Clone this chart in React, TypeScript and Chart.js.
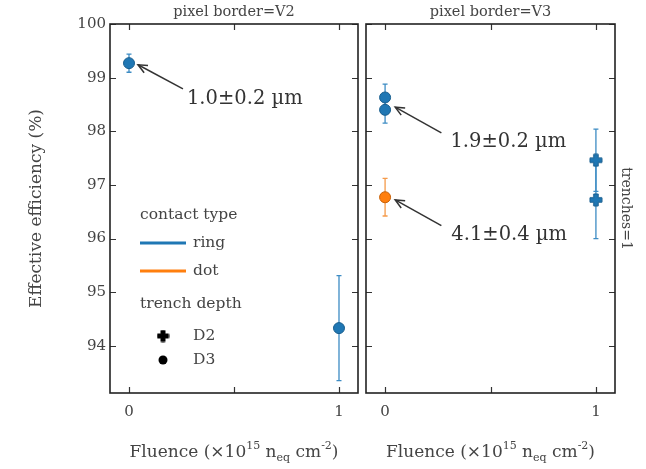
import React, { useEffect, useRef } from 'react';
import { Chart, registerables } from 'chart.js';
Chart.register(...registerables);

const FONT = "'DejaVu Serif', serif";
const BLUE = '#1f77b4';
const BLUE_EDGE = '#185e8e';
const ORANGE = '#ff7f0e';
const ORANGE_EDGE = '#c8620a';
const TEXT = '#444444';

// ---- data: pixel border = V2 (left panel) ----
const v2RingD3Fluence = [0, 1];
const v2RingD3Eff = [99.27, 94.33];
const v2RingD3Err = [0.17, 0.98];

// ---- data: pixel border = V3 (right panel) ----
const v3RingD3Fluence = [0, 0];
const v3RingD3Eff = [98.63, 98.4];
const v3RingD3Err = [0.25, 0.25];
const v3DotD3Fluence = [0];
const v3DotD3Eff = [96.77];
const v3DotD3Err = [0.35];
const v3RingD2Fluence = [1, 1];
const v3RingD2Eff = [97.46, 96.72];
const v3RingD2Err = [0.58, 0.72];

// ---- axes / labels ----
const xTicks = [0, 0.5, 1];
const xTickLabels = ['0', '', '1'];
const yTicks = [94, 95, 96, 97, 98, 99, 100];
const xRange = [-0.0905, 1.0905];
const yRange = [93.12, 100];
const panelTitles = ['pixel border=V2', 'pixel border=V3'];
const yTitle = 'Effective efficiency (%)';
const sideLabel = 'trenches=1';
const legendContactTitle = 'contact type';
const legendContact = ['ring', 'dot'];
const legendDepthTitle = 'trench depth';
const legendDepth = ['D2', 'D3'];

// annotations (data coordinates): text, arrow tip, arrow tail, text anchor
const v2NoteTexts = ['1.0±0.2 µm'];
const v2NoteTips = [[0.043, 99.24]];
const v2NoteTails = [[0.257, 98.79]];
const v2NoteAnchors = [[0.276, 98.6]];
const v3NoteTexts = ['1.9±0.2 µm', '4.1±0.4 µm'];
const v3NoteTips = [[0.048, 98.45], [0.048, 96.72]];
const v3NoteTails = [[0.267, 97.97], [0.267, 96.24]];
const v3NoteAnchors = [[0.31, 97.8], [0.314, 96.06]];

function makePlus(size: number, thick: number, fill: string, stroke: string) {
  const c = document.createElement('canvas');
  c.width = size + 2;
  c.height = size + 2;
  const g = c.getContext('2d')!;
  const o = 1, s = size, t = thick, a = (s - t) / 2;
  g.beginPath();
  g.moveTo(o + a, o);
  g.lineTo(o + a + t, o);
  g.lineTo(o + a + t, o + a);
  g.lineTo(o + s, o + a);
  g.lineTo(o + s, o + a + t);
  g.lineTo(o + a + t, o + a + t);
  g.lineTo(o + a + t, o + s);
  g.lineTo(o + a, o + s);
  g.lineTo(o + a, o + a + t);
  g.lineTo(o, o + a + t);
  g.lineTo(o, o + a);
  g.lineTo(o + a, o + a);
  g.closePath();
  g.fillStyle = fill;
  g.fill();
  g.strokeStyle = stroke;
  g.lineWidth = 1;
  g.stroke();
  return c;
}

function pts(xs: number[], ys: number[]) {
  return xs.map((x, i) => ({ x, y: ys[i] }));
}

function drawRich(ctx: CanvasRenderingContext2D, parts: [string, number, number][], cx: number, by: number) {
  let total = 0;
  parts.forEach(([t, size]) => {
    ctx.font = `${size}px ${FONT}`;
    total += ctx.measureText(t).width;
  });
  let x = cx - total / 2;
  ctx.textAlign = 'left';
  ctx.textBaseline = 'alphabetic';
  parts.forEach(([t, size, dy]) => {
    ctx.font = `${size}px ${FONT}`;
    ctx.fillText(t, x, by + dy);
    x += ctx.measureText(t).width;
  });
}

function drawArrow(ctx: CanvasRenderingContext2D, x1: number, y1: number, x2: number, y2: number) {
  ctx.save();
  ctx.strokeStyle = '#333';
  ctx.lineWidth = 1.5;
  ctx.beginPath();
  ctx.moveTo(x1, y1);
  ctx.lineTo(x2, y2);
  ctx.stroke();
  const ang = Math.atan2(y2 - y1, x2 - x1);
  const L = 10, w = 0.42;
  ctx.beginPath();
  ctx.moveTo(x2 - L * Math.cos(ang - w), y2 - L * Math.sin(ang - w));
  ctx.lineTo(x2, y2);
  ctx.lineTo(x2 - L * Math.cos(ang + w), y2 - L * Math.sin(ang + w));
  ctx.stroke();
  ctx.restore();
}

type PanelCfg = {
  yWidth: number;
  padRight: number;
  yLabels: boolean;
  title: string;
  datasets: any[];
  notes: { texts: string[]; tips: number[][]; tails: number[][]; anchors: number[][] };
  legend: boolean;
  side: boolean;
};

function buildChart(canvas: HTMLCanvasElement, p: PanelCfg) {
  const deco = {
    id: 'deco',
    beforeDatasetsDraw(chart: any) {
      const ctx = chart.ctx as CanvasRenderingContext2D;
      const xs = chart.scales.x, ys = chart.scales.y;
      ctx.save();
      chart.data.datasets.forEach((ds: any) => {
        if (!ds.errors) return;
        ctx.strokeStyle = ds.errColor || ds.backgroundColor;
        ctx.lineWidth = 1.3;
        ds.data.forEach((d: any, i: number) => {
          const e = ds.errors[i];
          const px = xs.getPixelForValue(d.x);
          const t = ys.getPixelForValue(d.y + e);
          const b = ys.getPixelForValue(d.y - e);
          ctx.beginPath();
          ctx.moveTo(px, t);
          ctx.lineTo(px, b);
          ctx.moveTo(px - 2.5, t);
          ctx.lineTo(px + 2.5, t);
          ctx.moveTo(px - 2.5, b);
          ctx.lineTo(px + 2.5, b);
          ctx.stroke();
        });
      });
      ctx.restore();
    },
    afterDraw(chart: any) {
      const ctx = chart.ctx as CanvasRenderingContext2D;
      const a = chart.chartArea;
      const xs = chart.scales.x, ys = chart.scales.y;
      ctx.save();
      // inward ticks
      ctx.strokeStyle = '#333';
      ctx.lineWidth = 1.2;
      const TL = 6;
      ctx.beginPath();
      xTicks.forEach((v) => {
        const px = Math.round(xs.getPixelForValue(v)) + 0.5;
        ctx.moveTo(px, a.bottom);
        ctx.lineTo(px, a.bottom - TL);
        ctx.moveTo(px, a.top);
        ctx.lineTo(px, a.top + TL);
      });
      yTicks.forEach((v) => {
        const py = Math.round(ys.getPixelForValue(v)) + 0.5;
        ctx.moveTo(a.left, py);
        ctx.lineTo(a.left + TL, py);
        ctx.moveTo(a.right, py);
        ctx.lineTo(a.right - TL, py);
      });
      ctx.stroke();
      // frame
      ctx.strokeStyle = '#222';
      ctx.lineWidth = 1.6;
      ctx.strokeRect(a.left, a.top, a.right - a.left, a.bottom - a.top);

      const cx = (a.left + a.right) / 2;
      ctx.fillStyle = TEXT;
      // panel title
      ctx.font = `14.5px ${FONT}`;
      ctx.textAlign = 'center';
      ctx.textBaseline = 'middle';
      ctx.fillText(p.title, cx, 12);
      // x title
      drawRich(
        ctx,
        [
          ['Fluence (×10', 17, 0],
          ['15', 11, -8],
          [' n', 17, 0],
          ['eq', 11, 4],
          [' cm', 17, 0],
          ['-2', 11, -8],
          [')', 17, 0],
        ],
        cx,
        457
      );
      // y title
      if (p.yLabels) {
        ctx.save();
        ctx.translate(37, (a.top + a.bottom) / 2);
        ctx.rotate(-Math.PI / 2);
        ctx.font = `17px ${FONT}`;
        ctx.textAlign = 'center';
        ctx.textBaseline = 'middle';
        ctx.fillText(yTitle, 0, 0);
        ctx.restore();
      }
      if (p.side) {
        ctx.save();
        ctx.translate(a.right + 11, (a.top + a.bottom) / 2);
        ctx.rotate(Math.PI / 2);
        ctx.font = `14px ${FONT}`;
        ctx.textAlign = 'center';
        ctx.textBaseline = 'middle';
        ctx.fillText(sideLabel, 0, 0);
        ctx.restore();
      }
      // annotations
      p.notes.texts.forEach((t, i) => {
        const tip = p.notes.tips[i], tail = p.notes.tails[i], an = p.notes.anchors[i];
        drawArrow(
          ctx,
          xs.getPixelForValue(tail[0]),
          ys.getPixelForValue(tail[1]),
          xs.getPixelForValue(tip[0]),
          ys.getPixelForValue(tip[1])
        );
        ctx.fillStyle = '#333';
        ctx.font = `19.5px ${FONT}`;
        ctx.textAlign = 'left';
        ctx.textBaseline = 'middle';
        ctx.fillText(t, xs.getPixelForValue(an[0]), ys.getPixelForValue(an[1]));
      });
      // legend
      if (p.legend) {
        const lx = a.left + 30;
        const tx = lx + 53;
        ctx.fillStyle = TEXT;
        ctx.font = `15.5px ${FONT}`;
        ctx.textAlign = 'left';
        ctx.textBaseline = 'middle';
        ctx.fillText(legendContactTitle, lx, 215);
        const lineCols = [BLUE, ORANGE];
        const ly = [243, 271];
        legendContact.forEach((t, i) => {
          ctx.strokeStyle = lineCols[i];
          ctx.lineWidth = 3;
          ctx.beginPath();
          ctx.moveTo(lx, ly[i]);
          ctx.lineTo(lx + 46, ly[i]);
          ctx.stroke();
          ctx.fillText(t, tx, ly[i]);
        });
        ctx.fillText(legendDepthTitle, lx, 304);
        const my = [336, 360];
        ctx.drawImage(makePlus(11, 4, '#000', '#000'), lx + 23 - 6.5, my[0] - 6.5);
        ctx.beginPath();
        ctx.fillStyle = '#000';
        ctx.arc(lx + 23, my[1], 4.5, 0, Math.PI * 2);
        ctx.fill();
        ctx.fillStyle = TEXT;
        legendDepth.forEach((t, i) => ctx.fillText(t, tx, my[i]));
      }
      ctx.restore();
    },
  };

  return new Chart(canvas, {
    type: 'scatter',
    data: { datasets: p.datasets },
    options: {
      responsive: false,
      animation: false,
      devicePixelRatio: 1,
      layout: { autoPadding: false, padding: { left: 0, top: 24, right: p.padRight, bottom: 0 } },
      plugins: { legend: { display: false }, tooltip: { enabled: false } },
      scales: {
        x: {
          type: 'linear',
          min: xRange[0],
          max: xRange[1],
          grid: { display: false, drawTicks: false },
          border: { display: false },
          afterBuildTicks: (s: any) => {
            s.ticks = xTicks.map((v) => ({ value: v }));
          },
          ticks: {
            callback: (_v: any, i: number) => xTickLabels[i] ?? '',
            font: { family: FONT, size: 15 },
            color: TEXT,
            padding: 10,
            maxRotation: 0,
            autoSkip: false,
          },
          afterFit: (s: any) => {
            s.height = 76;
            s.paddingLeft = 0;
            s.paddingRight = 0;
          },
        },
        y: {
          type: 'linear',
          min: yRange[0],
          max: yRange[1],
          grid: { display: false, drawTicks: false },
          border: { display: false },
          afterBuildTicks: (s: any) => {
            s.ticks = yTicks.map((v) => ({ value: v }));
          },
          ticks: {
            display: p.yLabels,
            font: { family: FONT, size: 15 },
            color: TEXT,
            padding: 4,
            autoSkip: false,
          },
          afterFit: (s: any) => {
            s.width = p.yWidth;
            s.paddingTop = 0;
            s.paddingBottom = 0;
          },
        },
      },
    },
    plugins: [deco],
  } as any);
}

function circleDs(xs: number[], ys: number[], errs: number[], fill: string, edge: string, errColor: string) {
  return {
    data: pts(xs, ys),
    errors: errs,
    errColor,
    pointStyle: 'circle',
    pointRadius: 5.5,
    backgroundColor: fill,
    borderColor: edge,
    borderWidth: 1,
  };
}

export default function App() {
  const leftRef = useRef<HTMLCanvasElement>(null);
  const rightRef = useRef<HTMLCanvasElement>(null);

  useEffect(() => {
    const plus = makePlus(12, 4.5, BLUE, BLUE_EDGE);
    const left = buildChart(leftRef.current!, {
      yWidth: 110,
      padRight: 2,
      yLabels: true,
      title: panelTitles[0],
      datasets: [circleDs(v2RingD3Fluence, v2RingD3Eff, v2RingD3Err, BLUE, BLUE_EDGE, '#3d8cc4')],
      notes: { texts: v2NoteTexts, tips: v2NoteTips, tails: v2NoteTails, anchors: v2NoteAnchors },
      legend: true,
      side: false,
    });
    const right = buildChart(rightRef.current!, {
      yWidth: 6,
      padRight: 31,
      yLabels: false,
      title: panelTitles[1],
      datasets: [
        circleDs(v3RingD3Fluence, v3RingD3Eff, v3RingD3Err, BLUE, BLUE_EDGE, '#3d8cc4'),
        circleDs(v3DotD3Fluence, v3DotD3Eff, v3DotD3Err, ORANGE, ORANGE_EDGE, '#f59a4a'),
        {
          data: pts(v3RingD2Fluence, v3RingD2Eff),
          errors: v3RingD2Err,
          errColor: '#3d8cc4',
          pointStyle: plus,
          pointRadius: 6,
          backgroundColor: BLUE,
          borderColor: BLUE_EDGE,
        },
      ],
      notes: { texts: v3NoteTexts, tips: v3NoteTips, tails: v3NoteTails, anchors: v3NoteAnchors },
      legend: false,
      side: true,
    });
    return () => {
      left.destroy();
      right.destroy();
    };
  }, []);

  return (
    <div style={{ position: 'fixed', left: 0, top: 0, width: 646, height: 469, background: '#fff' }}>
      <canvas
        ref={leftRef}
        width={360}
        height={469}
        style={{ position: 'absolute', left: 0, top: 0, width: 360, height: 469 }}
      />
      <canvas
        ref={rightRef}
        width={286}
        height={469}
        style={{ position: 'absolute', left: 360, top: 0, width: 286, height: 469 }}
      />
    </div>
  );
}
